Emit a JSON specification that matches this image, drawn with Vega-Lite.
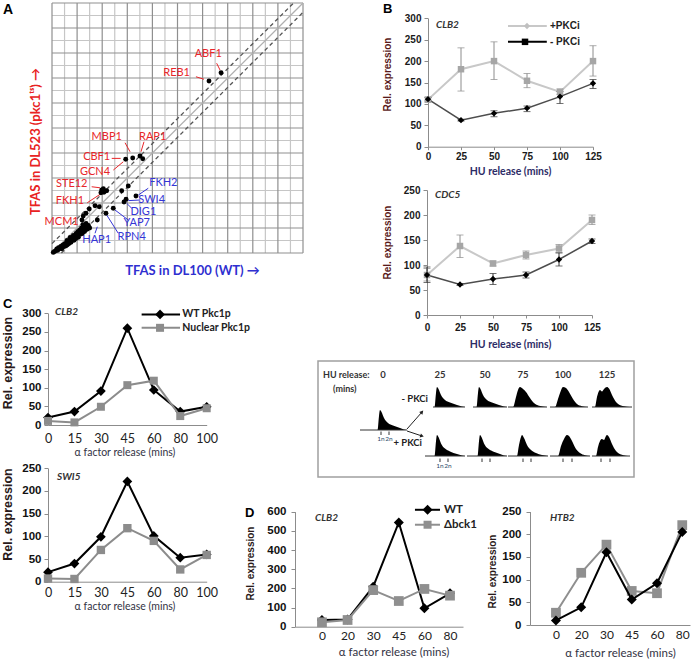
{
"$schema": "https://vega.github.io/schema/vega-lite/v6.json",
"background": "white",
"width": 691,
"height": 659,
"autosize": {"type": "none"},
"padding": 0,
"config": {"view": {"stroke": null}, "font": "Liberation Sans", "axis": {"labelFlush": false, "labelOverlap": false, "tickCount": 50}},
"resolve": {"scale": {"x": "independent", "y": "independent"}, "axis": {"x": "independent", "y": "independent"}},
"layer": [
{"layer": [
  {"data": {"values": [{"v": 1}, {"v": 3}, {"v": 5}, {"v": 7}, {"v": 9}, {"v": 11}, {"v": 13}, {"v": 15}, {"v": 17}, {"v": 19}]},
   "mark": {"type": "rule", "color": "#c6c6c6", "strokeWidth": 1.2},
   "encoding": {
    "x": {"field": "v", "type": "quantitative", "scale": {"domain": [0, 20], "range": [52, 303], "nice": false, "zero": false},
      "axis": {"orient": "bottom", "offset": -406, "labels": false, "ticks": false, "domain": false, "grid": false,
        "title": "TFAS in DL100 (WT) →", "titleFont": "Lato", "titleFontSize": 13, "titleFontWeight": "bold", "titleColor": "#2f2fd0", "titleX": 192, "titleY": 17, "titleBaseline": "middle"}},
    "y": {"datum": 0, "type": "quantitative"}, "y2": {"datum": 20}}},
  {"data": {"values": [{"v": 1}, {"v": 3}, {"v": 5}, {"v": 7}, {"v": 9}, {"v": 11}, {"v": 13}, {"v": 15}, {"v": 17}, {"v": 19}]},
   "mark": {"type": "rule", "color": "#c6c6c6", "strokeWidth": 1.2},
   "encoding": {
    "y": {"field": "v", "type": "quantitative", "scale": {"domain": [0, 20], "range": [253, 3], "nice": false, "zero": false},
      "axis": {"orient": "left", "offset": -52, "labels": false, "ticks": false, "domain": false, "grid": false,
        "title": "TFAS in DL523 (pkc1ᵗˢ) →", "titleFont": "Lato", "titleFontSize": 13, "titleFontWeight": "bold", "titleColor": "#e82222", "titleX": -17, "titleY": 141, "titleBaseline": "middle"}},
    "x": {"datum": 0, "type": "quantitative"}, "x2": {"datum": 20}}},
  {"data": {"values": [{"v": 0}, {"v": 2}, {"v": 4}, {"v": 6}, {"v": 8}, {"v": 10}, {"v": 12}, {"v": 14}, {"v": 16}, {"v": 18}, {"v": 20}]},
   "mark": {"type": "rule", "color": "#8f8f8f", "strokeWidth": 1.2},
   "encoding": {"x": {"field": "v", "type": "quantitative"}, "y": {"datum": 0, "type": "quantitative"}, "y2": {"datum": 20}}},
  {"data": {"values": [{"v": 0}, {"v": 2}, {"v": 4}, {"v": 6}, {"v": 8}, {"v": 10}, {"v": 12}, {"v": 14}, {"v": 16}, {"v": 18}, {"v": 20}]},
   "mark": {"type": "rule", "color": "#8f8f8f", "strokeWidth": 1.2},
   "encoding": {"y": {"field": "v", "type": "quantitative"}, "x": {"datum": 0, "type": "quantitative"}, "x2": {"datum": 20}}},
  {"data": {"values": [{"x1": 0, "y1": 0, "x2": 20, "y2": 20}]},
   "mark": {"type": "rule", "strokeWidth": 1.3, "color": "#b0b0b0"},
   "encoding": {"x": {"field": "x1", "type": "quantitative"}, "y": {"field": "y1", "type": "quantitative"}, "x2": {"field": "x2"}, "y2": {"field": "y2"}}},
  {"data": {"values": [{"x1": 0, "y1": 0.75, "x2": 19.25, "y2": 20}, {"x1": 0.75, "y1": 0, "x2": 20, "y2": 19.25}]},
   "mark": {"type": "rule", "strokeWidth": 1.3, "color": "#555555", "strokeDash": [4, 3]},
   "encoding": {"x": {"field": "x1", "type": "quantitative"}, "y": {"field": "y1", "type": "quantitative"}, "x2": {"field": "x2"}, "y2": {"field": "y2"}}},
  {"data": {"values": [
    {"x1": 13.12, "y1": 15.18, "x2": 13.39, "y2": 14.64},
    {"x1": 11.47, "y1": 14.1, "x2": 12.11, "y2": 13.9},
    {"x1": 5.82, "y1": 8.82, "x2": 6.22, "y2": 8.1},
    {"x1": 7.33, "y1": 8.9, "x2": 7.09, "y2": 8.1},
    {"x1": 4.76, "y1": 7.57, "x2": 5.47, "y2": 7.57},
    {"x1": 4.89, "y1": 6.64, "x2": 5.68, "y2": 7.3},
    {"x1": 3.16, "y1": 5.3, "x2": 3.82, "y2": 5.22},
    {"x1": 2.81, "y1": 4.02, "x2": 3.96, "y2": 4.78}]},
   "mark": {"type": "rule", "strokeWidth": 1, "color": "#e8262a"},
   "encoding": {"x": {"field": "x1", "type": "quantitative"}, "y": {"field": "y1", "type": "quantitative"}, "x2": {"field": "x2"}, "y2": {"field": "y2"}}},
  {"data": {"values": [
    {"x1": 7.67, "y1": 5.18, "x2": 6.88, "y2": 4.64},
    {"x1": 7.01, "y1": 4.24, "x2": 6.08, "y2": 4.19},
    {"x1": 6.35, "y1": 3.58, "x2": 5.95, "y2": 3.98},
    {"x1": 6.08, "y1": 2.64, "x2": 5.02, "y2": 3.44},
    {"x1": 5.28, "y1": 1.58, "x2": 4.36, "y2": 3.04},
    {"x1": 3.43, "y1": 1.58, "x2": 3.61, "y2": 2.1}]},
   "mark": {"type": "rule", "strokeWidth": 1, "color": "#3535d5"},
   "encoding": {"x": {"field": "x1", "type": "quantitative"}, "y": {"field": "y1", "type": "quantitative"}, "x2": {"field": "x2"}, "y2": {"field": "y2"}}},
  {"data": {"values": [
    {"label": "ABF1", "x": 12.45, "y": 15.92},
    {"label": "REB1", "x": 9.93, "y": 14.43},
    {"label": "MBP1", "x": 4.36, "y": 9.3},
    {"label": "RAP1", "x": 8.02, "y": 9.3},
    {"label": "CBF1", "x": 3.56, "y": 7.7},
    {"label": "GCN4", "x": 3.43, "y": 6.46},
    {"label": "STE12", "x": 1.57, "y": 5.5},
    {"label": "FKH1", "x": 1.43, "y": 4.14},
    {"label": "MCM1", "x": 0.77, "y": 2.5}]},
   "mark": {"type": "text", "font": "Lato", "fontSize": 11, "align": "center", "baseline": "middle", "color": "#e8262a"},
   "encoding": {"x": {"field": "x", "type": "quantitative"}, "y": {"field": "y", "type": "quantitative"}, "text": {"field": "label"}}},
  {"data": {"values": [
    {"label": "FKH2", "x": 8.87, "y": 5.58},
    {"label": "SWI4", "x": 7.94, "y": 4.24},
    {"label": "DIG1", "x": 7.28, "y": 3.26},
    {"label": "YAP7", "x": 6.75, "y": 2.42},
    {"label": "RPN4", "x": 6.35, "y": 1.3},
    {"label": "HAP1", "x": 3.56, "y": 1.04}]},
   "mark": {"type": "text", "font": "Lato", "fontSize": 11, "align": "center", "baseline": "middle", "color": "#3535d5"},
   "encoding": {"x": {"field": "x", "type": "quantitative"}, "y": {"field": "y", "type": "quantitative"}, "text": {"field": "label"}}},
  {"data": {"values": [
    {"x": 13.47, "y": 14.42}, {"x": 12.51, "y": 13.76}, {"x": 5.87, "y": 7.5}, {"x": 6.43, "y": 7.6}, {"x": 7.01, "y": 7.76}, {"x": 7.23, "y": 7.54},
    {"x": 3.96, "y": 5.04}, {"x": 4.14, "y": 4.86}, {"x": 4.09, "y": 5.14}, {"x": 4.36, "y": 4.98}, {"x": 3.9, "y": 4.82}, {"x": 5.55, "y": 4.98},
    {"x": 6.08, "y": 5.36}, {"x": 6.69, "y": 4.56}, {"x": 5.9, "y": 4.3}, {"x": 5.74, "y": 4.08}, {"x": 3.43, "y": 3.78}, {"x": 3.77, "y": 3.7},
    {"x": 2.97, "y": 3.52}, {"x": 4.88, "y": 3.58}, {"x": 4.3, "y": 3.18}, {"x": 3.61, "y": 2.64}, {"x": 2.49, "y": 2.96}, {"x": 2.71, "y": 3.18},
    {"x": 2.39, "y": 2.64},
    {"x": 0.1, "y": 0.05}, {"x": 0.2, "y": 0.12}, {"x": 0.3, "y": 0.18}, {"x": 0.38, "y": 0.32}, {"x": 0.46, "y": 0.22}, {"x": 0.52, "y": 0.42},
    {"x": 0.62, "y": 0.36}, {"x": 0.7, "y": 0.52}, {"x": 0.78, "y": 0.34}, {"x": 0.86, "y": 0.62}, {"x": 0.92, "y": 0.5}, {"x": 1.0, "y": 0.72},
    {"x": 1.06, "y": 0.56}, {"x": 1.15, "y": 0.82}, {"x": 1.22, "y": 0.66}, {"x": 1.3, "y": 0.92}, {"x": 1.36, "y": 0.76}, {"x": 1.45, "y": 1.02},
    {"x": 1.52, "y": 0.86}, {"x": 1.6, "y": 1.12}, {"x": 1.66, "y": 1.22}, {"x": 1.76, "y": 1.02}, {"x": 1.82, "y": 1.32}, {"x": 1.9, "y": 1.16},
    {"x": 2.0, "y": 1.42}, {"x": 2.1, "y": 1.26}, {"x": 2.16, "y": 1.62}, {"x": 2.26, "y": 1.5}, {"x": 2.35, "y": 1.72}, {"x": 2.42, "y": 1.56},
    {"x": 2.5, "y": 1.86}, {"x": 2.6, "y": 1.72}, {"x": 2.7, "y": 2.0}, {"x": 2.8, "y": 1.9}, {"x": 2.9, "y": 2.2}, {"x": 2.2, "y": 1.82},
    {"x": 1.92, "y": 1.56}, {"x": 2.56, "y": 2.12}, {"x": 3.0, "y": 2.0}, {"x": 2.46, "y": 2.26}, {"x": 2.72, "y": 2.36}, {"x": 1.7, "y": 1.4},
    {"x": 2.05, "y": 1.7}, {"x": 2.35, "y": 2.0}, {"x": 1.45, "y": 1.25}, {"x": 1.2, "y": 1.0}]},
   "mark": {"type": "circle", "color": "#000000", "size": 24, "opacity": 1},
   "encoding": {"x": {"field": "x", "type": "quantitative"}, "y": {"field": "y", "type": "quantitative"}}},
  {"data": {"values": [{"l": "A", "x": -3.9, "y": 20}]},
   "mark": {"type": "text", "align": "left", "baseline": "top", "fontSize": 14, "fontWeight": "bold", "color": "#000000"},
   "encoding": {"x": {"field": "x", "type": "quantitative"}, "y": {"field": "y", "type": "quantitative"}, "text": {"field": "l"}}}
]},
{"layer": [
  {"data": {"values": [
    {"cond": "+PKCi", "t": 0, "v": 110, "lo": 104, "hi": 116},
    {"cond": "+PKCi", "t": 25, "v": 181, "lo": 130, "hi": 231},
    {"cond": "+PKCi", "t": 50, "v": 200, "lo": 157, "hi": 245},
    {"cond": "+PKCi", "t": 75, "v": 154, "lo": 138, "hi": 171},
    {"cond": "+PKCi", "t": 100, "v": 128, "lo": 122, "hi": 135},
    {"cond": "+PKCi", "t": 125, "v": 200, "lo": 165, "hi": 236},
    {"cond": "- PKCi", "t": 0, "v": 111, "lo": 107, "hi": 115},
    {"cond": "- PKCi", "t": 25, "v": 62, "lo": 60, "hi": 64},
    {"cond": "- PKCi", "t": 50, "v": 78, "lo": 70, "hi": 84},
    {"cond": "- PKCi", "t": 75, "v": 90, "lo": 82, "hi": 95},
    {"cond": "- PKCi", "t": 100, "v": 117, "lo": 101, "hi": 129},
    {"cond": "- PKCi", "t": 125, "v": 148, "lo": 136, "hi": 157}]},
   "layer": [
    {"transform": [{"filter": "datum.cond === '+PKCi'"}], "mark": {"type": "line", "color": "#c8c8c8", "strokeWidth": 2},
     "encoding": {
      "x": {"field": "t", "type": "quantitative", "scale": {"domain": [0, 125], "range": [428, 593], "nice": false, "zero": false},
        "axis": {"orient": "bottom", "offset": -512.3, "values": [0, 25, 50, 75, 100, 125], "grid": false, "domainColor": "#8c8c8c", "tickColor": "#8c8c8c", "tickSize": 3, "labelPadding": 2,
          "labelFont": "Liberation Sans", "labelFontSize": 10, "labelFontWeight": "bold", "labelColor": "#1a1a1a",
          "title": "HU release (mins)", "titleFont": "Lato", "titleFontSize": 10.5, "titleFontWeight": "bold", "titleColor": "#2c2c66", "titleX": 510, "titleY": 25, "titleBaseline": "middle"}},
      "y": {"field": "v", "type": "quantitative", "scale": {"domain": [0, 300], "range": [146.7, 18.3], "nice": false, "zero": false},
        "axis": {"orient": "left", "offset": -428, "values": [0, 50, 100, 150, 200, 250, 300], "grid": false, "domainColor": "#8c8c8c", "tickColor": "#8c8c8c", "tickSize": 4, "labelPadding": 3,
          "labelFont": "Liberation Sans", "labelFontSize": 10, "labelFontWeight": "bold", "labelColor": "#1a1a1a",
          "title": "Rel. expression", "titleFontSize": 10, "titleFontWeight": "bold", "titleColor": "#5a1a1a", "titleX": -41, "titleY": 74, "titleBaseline": "middle"}}}},
    {"transform": [{"filter": "datum.cond === '- PKCi'"}], "mark": {"type": "line", "color": "#4d4d4d", "strokeWidth": 1.5},
     "encoding": {"x": {"field": "t", "type": "quantitative"}, "y": {"field": "v", "type": "quantitative"}}},
    {"transform": [{"filter": "datum.cond === '+PKCi'"}], "mark": {"type": "rule", "strokeWidth": 1, "color": "#8c8c8c"},
     "encoding": {"x": {"field": "t", "type": "quantitative"}, "y": {"field": "lo", "type": "quantitative"}, "y2": {"field": "hi"}}},
    {"transform": [{"filter": "datum.cond === '+PKCi'"}], "mark": {"type": "tick", "orient": "horizontal", "size": 7, "thickness": 1, "color": "#8c8c8c"},
     "encoding": {"x": {"field": "t", "type": "quantitative"}, "y": {"field": "lo", "type": "quantitative"}}},
    {"transform": [{"filter": "datum.cond === '+PKCi'"}], "mark": {"type": "tick", "orient": "horizontal", "size": 7, "thickness": 1, "color": "#8c8c8c"},
     "encoding": {"x": {"field": "t", "type": "quantitative"}, "y": {"field": "hi", "type": "quantitative"}}},
    {"transform": [{"filter": "datum.cond === '- PKCi'"}], "mark": {"type": "rule", "strokeWidth": 1, "color": "#333333"},
     "encoding": {"x": {"field": "t", "type": "quantitative"}, "y": {"field": "lo", "type": "quantitative"}, "y2": {"field": "hi"}}},
    {"transform": [{"filter": "datum.cond === '- PKCi'"}], "mark": {"type": "tick", "orient": "horizontal", "size": 7, "thickness": 1, "color": "#333333"},
     "encoding": {"x": {"field": "t", "type": "quantitative"}, "y": {"field": "lo", "type": "quantitative"}}},
    {"transform": [{"filter": "datum.cond === '- PKCi'"}], "mark": {"type": "tick", "orient": "horizontal", "size": 7, "thickness": 1, "color": "#333333"},
     "encoding": {"x": {"field": "t", "type": "quantitative"}, "y": {"field": "hi", "type": "quantitative"}}},
    {"transform": [{"filter": "datum.cond === '+PKCi'"}], "mark": {"type": "point", "shape": "square", "filled": true, "color": "#a6a6a6", "size": 42, "opacity": 1},
     "encoding": {"x": {"field": "t", "type": "quantitative"}, "y": {"field": "v", "type": "quantitative"}}},
    {"transform": [{"filter": "datum.cond === '- PKCi'"}], "mark": {"type": "point", "shape": "diamond", "filled": true, "color": "#000000", "size": 40, "opacity": 1},
     "encoding": {"x": {"field": "t", "type": "quantitative"}, "y": {"field": "v", "type": "quantitative"}}}
   ]},
  {"data": {"values": [{"x1": 60.6, "x2": 90, "y": 282}]}, "mark": {"type": "rule", "strokeWidth": 2, "color": "#c8c8c8"},
   "encoding": {"x": {"field": "x1", "type": "quantitative"}, "x2": {"field": "x2"}, "y": {"field": "y", "type": "quantitative"}}},
  {"data": {"values": [{"x1": 60.6, "x2": 90, "y": 245}]}, "mark": {"type": "rule", "strokeWidth": 2, "color": "#000000"},
   "encoding": {"x": {"field": "x1", "type": "quantitative"}, "x2": {"field": "x2"}, "y": {"field": "y", "type": "quantitative"}}},
  {"data": {"values": [{"x": 75, "y": 282}]}, "mark": {"type": "point", "shape": "diamond", "filled": true, "color": "#c0c0c0", "size": 40, "opacity": 1},
   "encoding": {"x": {"field": "x", "type": "quantitative"}, "y": {"field": "y", "type": "quantitative"}}},
  {"data": {"values": [{"x": 73.5, "y": 245}]}, "mark": {"type": "point", "shape": "square", "filled": true, "color": "#000000", "size": 42, "opacity": 1},
   "encoding": {"x": {"field": "x", "type": "quantitative"}, "y": {"field": "y", "type": "quantitative"}}},
  {"data": {"values": [{"s": "+PKCi", "x": 92.4, "y": 282}, {"s": "- PKCi", "x": 92.4, "y": 245}]},
   "mark": {"type": "text", "align": "left", "baseline": "middle", "fontSize": 10, "fontWeight": "bold", "color": "#222222"},
   "encoding": {"x": {"field": "x", "type": "quantitative"}, "y": {"field": "y", "type": "quantitative"}, "text": {"field": "s"}}},
  {"data": {"values": [{"g": "CLB2", "x": 6, "y": 284}]},
   "mark": {"type": "text", "align": "left", "baseline": "middle", "font": "Lato", "fontStyle": "italic", "fontWeight": "bold", "fontSize": 10, "color": "#333333"},
   "encoding": {"x": {"field": "x", "type": "quantitative"}, "y": {"field": "y", "type": "quantitative"}, "text": {"field": "g"}}},
  {"data": {"values": [{"l": "B", "x": -34, "y": 335.7}]},
   "mark": {"type": "text", "align": "left", "baseline": "top", "fontSize": 13, "fontWeight": "bold", "color": "#000000"},
   "encoding": {"x": {"field": "x", "type": "quantitative"}, "y": {"field": "y", "type": "quantitative"}, "text": {"field": "l"}}}
]},
{"layer": [
  {"data": {"values": [
    {"cond": "+PKCi", "t": 0, "v": 80, "lo": 68, "hi": 93},
    {"cond": "+PKCi", "t": 25, "v": 138, "lo": 115, "hi": 160},
    {"cond": "+PKCi", "t": 50, "v": 103, "lo": 98, "hi": 108},
    {"cond": "+PKCi", "t": 75, "v": 120, "lo": 112, "hi": 128},
    {"cond": "+PKCi", "t": 100, "v": 133, "lo": 125, "hi": 141},
    {"cond": "+PKCi", "t": 125, "v": 190, "lo": 181, "hi": 200},
    {"cond": "- PKCi", "t": 0, "v": 80, "lo": 65, "hi": 96},
    {"cond": "- PKCi", "t": 25, "v": 61, "lo": 59, "hi": 63},
    {"cond": "- PKCi", "t": 50, "v": 72, "lo": 61, "hi": 83},
    {"cond": "- PKCi", "t": 75, "v": 80, "lo": 74, "hi": 86},
    {"cond": "- PKCi", "t": 100, "v": 111, "lo": 98, "hi": 124},
    {"cond": "- PKCi", "t": 125, "v": 148, "lo": 143, "hi": 152}]},
   "layer": [
    {"transform": [{"filter": "datum.cond === '+PKCi'"}], "mark": {"type": "line", "color": "#c8c8c8", "strokeWidth": 2},
     "encoding": {
      "x": {"field": "t", "type": "quantitative", "scale": {"domain": [0, 125], "range": [427, 592], "nice": false, "zero": false},
        "axis": {"orient": "bottom", "offset": -344, "values": [0, 25, 50, 75, 100, 125], "grid": false, "domainColor": "#8c8c8c", "tickColor": "#8c8c8c", "tickSize": 3, "labelPadding": 4,
          "labelFont": "Liberation Sans", "labelFontSize": 10, "labelFontWeight": "bold", "labelColor": "#1a1a1a",
          "title": "HU release (mins)", "titleFont": "Lato", "titleFontSize": 10.5, "titleFontWeight": "bold", "titleColor": "#2c2c66", "titleX": 510, "titleY": 29, "titleBaseline": "middle"}},
      "y": {"field": "v", "type": "quantitative", "scale": {"domain": [0, 250], "range": [315, 190], "nice": false, "zero": false},
        "axis": {"orient": "left", "offset": -427, "values": [0, 50, 100, 150, 200, 250], "grid": false, "domainColor": "#8c8c8c", "tickColor": "#8c8c8c", "tickSize": 4, "labelPadding": 3,
          "labelFont": "Liberation Sans", "labelFontSize": 10, "labelFontWeight": "bold", "labelColor": "#1a1a1a",
          "title": "Rel. expression", "titleFontSize": 10, "titleFontWeight": "bold", "titleColor": "#5a1a1a", "titleX": -40, "titleY": 242, "titleBaseline": "middle"}}}},
    {"transform": [{"filter": "datum.cond === '- PKCi'"}], "mark": {"type": "line", "color": "#4d4d4d", "strokeWidth": 1.5},
     "encoding": {"x": {"field": "t", "type": "quantitative"}, "y": {"field": "v", "type": "quantitative"}}},
    {"transform": [{"filter": "datum.cond === '+PKCi'"}], "mark": {"type": "rule", "strokeWidth": 1, "color": "#8c8c8c"},
     "encoding": {"x": {"field": "t", "type": "quantitative"}, "y": {"field": "lo", "type": "quantitative"}, "y2": {"field": "hi"}}},
    {"transform": [{"filter": "datum.cond === '+PKCi'"}], "mark": {"type": "tick", "orient": "horizontal", "size": 7, "thickness": 1, "color": "#8c8c8c"},
     "encoding": {"x": {"field": "t", "type": "quantitative"}, "y": {"field": "lo", "type": "quantitative"}}},
    {"transform": [{"filter": "datum.cond === '+PKCi'"}], "mark": {"type": "tick", "orient": "horizontal", "size": 7, "thickness": 1, "color": "#8c8c8c"},
     "encoding": {"x": {"field": "t", "type": "quantitative"}, "y": {"field": "hi", "type": "quantitative"}}},
    {"transform": [{"filter": "datum.cond === '- PKCi'"}], "mark": {"type": "rule", "strokeWidth": 1, "color": "#333333"},
     "encoding": {"x": {"field": "t", "type": "quantitative"}, "y": {"field": "lo", "type": "quantitative"}, "y2": {"field": "hi"}}},
    {"transform": [{"filter": "datum.cond === '- PKCi'"}], "mark": {"type": "tick", "orient": "horizontal", "size": 7, "thickness": 1, "color": "#333333"},
     "encoding": {"x": {"field": "t", "type": "quantitative"}, "y": {"field": "lo", "type": "quantitative"}}},
    {"transform": [{"filter": "datum.cond === '- PKCi'"}], "mark": {"type": "tick", "orient": "horizontal", "size": 7, "thickness": 1, "color": "#333333"},
     "encoding": {"x": {"field": "t", "type": "quantitative"}, "y": {"field": "hi", "type": "quantitative"}}},
    {"transform": [{"filter": "datum.cond === '+PKCi'"}], "mark": {"type": "point", "shape": "square", "filled": true, "color": "#a6a6a6", "size": 42, "opacity": 1},
     "encoding": {"x": {"field": "t", "type": "quantitative"}, "y": {"field": "v", "type": "quantitative"}}},
    {"transform": [{"filter": "datum.cond === '- PKCi'"}], "mark": {"type": "point", "shape": "diamond", "filled": true, "color": "#000000", "size": 40, "opacity": 1},
     "encoding": {"x": {"field": "t", "type": "quantitative"}, "y": {"field": "v", "type": "quantitative"}}}
   ]},
  {"data": {"values": [{"g": "CDC5", "x": 6, "y": 240}]},
   "mark": {"type": "text", "align": "left", "baseline": "middle", "font": "Lato", "fontStyle": "italic", "fontWeight": "bold", "fontSize": 10, "color": "#333333"},
   "encoding": {"x": {"field": "x", "type": "quantitative"}, "y": {"field": "y", "type": "quantitative"}, "text": {"field": "g"}}}
]},
{"resolve": {"scale": {"x": "independent"}},
 "layer": [
  {"data": {"values": [
    {"s": "WT Pkc1p", "t": 0, "v": 20}, {"s": "WT Pkc1p", "t": 15, "v": 36}, {"s": "WT Pkc1p", "t": 30, "v": 91}, {"s": "WT Pkc1p", "t": 45, "v": 260},
    {"s": "WT Pkc1p", "t": 60, "v": 94}, {"s": "WT Pkc1p", "t": 80, "v": 36}, {"s": "WT Pkc1p", "t": 100, "v": 49},
    {"s": "Nuclear Pkc1p", "t": 0, "v": 11}, {"s": "Nuclear Pkc1p", "t": 15, "v": 7}, {"s": "Nuclear Pkc1p", "t": 30, "v": 49}, {"s": "Nuclear Pkc1p", "t": 45, "v": 107},
    {"s": "Nuclear Pkc1p", "t": 60, "v": 119}, {"s": "Nuclear Pkc1p", "t": 80, "v": 24}, {"s": "Nuclear Pkc1p", "t": 100, "v": 45}]},
   "layer": [
    {"transform": [{"filter": "datum.s === 'WT Pkc1p'"}], "mark": {"type": "line", "color": "#000000", "strokeWidth": 2},
     "encoding": {
      "x": {"field": "t", "type": "ordinal", "scale": {"type": "point", "domain": [0, 15, 30, 45, 60, 80, 100], "range": [48, 206.7], "padding": 0},
        "axis": {"orient": "bottom", "offset": -234, "labelAngle": 0, "ticks": false, "domainColor": "#8c8c8c", "labelFont": "Lato", "labelFontSize": 12.5, "labelColor": "#222222", "labelPadding": 7,
          "title": "α factor release (mins)", "titleFont": "Lato", "titleFontSize": 10.5, "titleFontWeight": "normal", "titleColor": "#333344", "titleX": 124.5, "titleY": 27, "titleBaseline": "middle"}},
      "y": {"field": "v", "type": "quantitative", "scale": {"domain": [0, 300], "range": [425, 313.3], "nice": false, "zero": false},
        "axis": {"orient": "left", "offset": -48, "values": [0, 50, 100, 150, 200, 250, 300], "grid": false, "domainColor": "#8c8c8c", "tickColor": "#8c8c8c", "tickSize": 4, "labelPadding": 3,
          "labelFont": "Liberation Sans", "labelFontSize": 11.5, "labelFontWeight": "bold", "labelColor": "#111111",
          "title": "Rel. expression", "titleFontSize": 12.5, "titleFontWeight": "bold", "titleColor": "#2a1a1a", "titleX": -40.7, "titleY": 362.5, "titleBaseline": "middle"}}}},
    {"transform": [{"filter": "datum.s === 'WT Pkc1p'"}], "mark": {"type": "point", "shape": "diamond", "filled": true, "color": "#000000", "size": 95, "opacity": 1},
     "encoding": {"x": {"field": "t", "type": "ordinal"}, "y": {"field": "v", "type": "quantitative"}}},
    {"transform": [{"filter": "datum.s === 'Nuclear Pkc1p'"}], "mark": {"type": "line", "color": "#8c8c8c", "strokeWidth": 2},
     "encoding": {"x": {"field": "t", "type": "ordinal"}, "y": {"field": "v", "type": "quantitative"}}},
    {"transform": [{"filter": "datum.s === 'Nuclear Pkc1p'"}], "mark": {"type": "point", "shape": "square", "filled": true, "color": "#8c8c8c", "size": 64, "opacity": 1},
     "encoding": {"x": {"field": "t", "type": "ordinal"}, "y": {"field": "v", "type": "quantitative"}}},
    {"data": {"values": [{"g": "CLB2", "t": 0, "v": 303.5}]},
     "mark": {"type": "text", "align": "left", "baseline": "middle", "dx": 7, "font": "Lato", "fontStyle": "italic", "fontWeight": "bold", "fontSize": 10, "color": "#333333"},
     "encoding": {"x": {"field": "t", "type": "ordinal"}, "y": {"field": "v", "type": "quantitative"}, "text": {"field": "g"}}},
    {"data": {"values": [{"l": "C", "t": 0, "v": 341}]},
     "mark": {"type": "text", "align": "left", "baseline": "top", "dx": -45, "fontSize": 13, "fontWeight": "bold", "color": "#000000"},
     "encoding": {"x": {"field": "t", "type": "ordinal"}, "y": {"field": "v", "type": "quantitative"}, "text": {"field": "l"}}}
   ]},
  {"data": {"values": [
    {"s": "WT Pkc1p", "x1": 59.0, "x2": 83.2, "xm": 70.6, "xt": 84.6, "y": 297},
    {"s": "Nuclear Pkc1p", "x1": 59.0, "x2": 83.2, "xm": 70.6, "xt": 84.6, "y": 261}]},
   "layer": [
    {"transform": [{"filter": "datum.s === 'WT Pkc1p'"}], "mark": {"type": "rule", "strokeWidth": 2, "color": "#000000"},
     "encoding": {"x": {"field": "x1", "type": "quantitative", "scale": {"domain": [0, 100], "range": [48, 206.7], "nice": false, "zero": false}, "axis": null}, "x2": {"field": "x2"},
      "y": {"field": "y", "type": "quantitative"}}},
    {"transform": [{"filter": "datum.s === 'Nuclear Pkc1p'"}], "mark": {"type": "rule", "strokeWidth": 2, "color": "#8c8c8c"},
     "encoding": {"x": {"field": "x1", "type": "quantitative"}, "x2": {"field": "x2"}, "y": {"field": "y", "type": "quantitative"}}},
    {"transform": [{"filter": "datum.s === 'WT Pkc1p'"}], "mark": {"type": "point", "shape": "diamond", "filled": true, "color": "#000000", "size": 95, "opacity": 1},
     "encoding": {"x": {"field": "xm", "type": "quantitative"}, "y": {"field": "y", "type": "quantitative"}}},
    {"transform": [{"filter": "datum.s === 'Nuclear Pkc1p'"}], "mark": {"type": "point", "shape": "square", "filled": true, "color": "#8c8c8c", "size": 64, "opacity": 1},
     "encoding": {"x": {"field": "xm", "type": "quantitative"}, "y": {"field": "y", "type": "quantitative"}}},
    {"mark": {"type": "text", "align": "left", "baseline": "middle", "font": "Lato", "fontWeight": "bold", "fontSize": 10.5, "color": "#222222"},
     "encoding": {"x": {"field": "xt", "type": "quantitative"}, "y": {"field": "y", "type": "quantitative"}, "text": {"field": "s"}}}
   ]}
]},
{"layer": [
  {"data": {"values": [
    {"s": "WT Pkc1p", "t": 0, "v": 21}, {"s": "WT Pkc1p", "t": 15, "v": 40}, {"s": "WT Pkc1p", "t": 30, "v": 99}, {"s": "WT Pkc1p", "t": 45, "v": 221},
    {"s": "WT Pkc1p", "t": 60, "v": 101}, {"s": "WT Pkc1p", "t": 80, "v": 53}, {"s": "WT Pkc1p", "t": 100, "v": 60},
    {"s": "Nuclear Pkc1p", "t": 0, "v": 7}, {"s": "Nuclear Pkc1p", "t": 15, "v": 6}, {"s": "Nuclear Pkc1p", "t": 30, "v": 70}, {"s": "Nuclear Pkc1p", "t": 45, "v": 118},
    {"s": "Nuclear Pkc1p", "t": 60, "v": 90}, {"s": "Nuclear Pkc1p", "t": 80, "v": 27}, {"s": "Nuclear Pkc1p", "t": 100, "v": 59}]},
   "layer": [
    {"transform": [{"filter": "datum.s === 'WT Pkc1p'"}], "mark": {"type": "line", "color": "#000000", "strokeWidth": 2},
     "encoding": {
      "x": {"field": "t", "type": "ordinal", "scale": {"type": "point", "domain": [0, 15, 30, 45, 60, 80, 100], "range": [48, 206.7], "padding": 0},
        "axis": {"orient": "bottom", "offset": -77.3, "labelAngle": 0, "ticks": false, "domainColor": "#8c8c8c", "labelFont": "Lato", "labelFontSize": 12.5, "labelColor": "#222222", "labelPadding": 5,
          "title": "α factor release (mins)", "titleFont": "Lato", "titleFontSize": 10.5, "titleFontWeight": "normal", "titleColor": "#333344", "titleX": 124.5, "titleY": 25, "titleBaseline": "middle"}},
      "y": {"field": "v", "type": "quantitative", "scale": {"domain": [0, 250], "range": [581.7, 468.3], "nice": false, "zero": false},
        "axis": {"orient": "left", "offset": -48, "values": [0, 50, 100, 150, 200, 250], "grid": false, "domainColor": "#8c8c8c", "tickColor": "#8c8c8c", "tickSize": 4, "labelPadding": 3,
          "labelFont": "Liberation Sans", "labelFontSize": 11.5, "labelFontWeight": "bold", "labelColor": "#111111",
          "title": "Rel. expression", "titleFontSize": 12.5, "titleFontWeight": "bold", "titleColor": "#2a1a1a", "titleX": -40.7, "titleY": 514, "titleBaseline": "middle"}}}},
    {"transform": [{"filter": "datum.s === 'WT Pkc1p'"}], "mark": {"type": "point", "shape": "diamond", "filled": true, "color": "#000000", "size": 95, "opacity": 1},
     "encoding": {"x": {"field": "t", "type": "ordinal"}, "y": {"field": "v", "type": "quantitative"}}},
    {"transform": [{"filter": "datum.s === 'Nuclear Pkc1p'"}], "mark": {"type": "line", "color": "#8c8c8c", "strokeWidth": 2},
     "encoding": {"x": {"field": "t", "type": "ordinal"}, "y": {"field": "v", "type": "quantitative"}}},
    {"transform": [{"filter": "datum.s === 'Nuclear Pkc1p'"}], "mark": {"type": "point", "shape": "square", "filled": true, "color": "#8c8c8c", "size": 70, "opacity": 1},
     "encoding": {"x": {"field": "t", "type": "ordinal"}, "y": {"field": "v", "type": "quantitative"}}},
    {"data": {"values": [{"g": "SWI5", "t": 0, "v": 230}]},
     "mark": {"type": "text", "align": "left", "baseline": "middle", "dx": 9, "font": "Lato", "fontStyle": "italic", "fontWeight": "bold", "fontSize": 10, "color": "#333333"},
     "encoding": {"x": {"field": "t", "type": "ordinal"}, "y": {"field": "v", "type": "quantitative"}, "text": {"field": "g"}}}
   ]}
]},
{"layer": [
  {"data": {"values": [{"x": 0, "x2": 316, "y": 0, "y2": 116}]},
   "mark": {"type": "rect", "fill": "transparent", "stroke": "#a0a0a0", "strokeWidth": 1.5},
   "encoding": {"x": {"field": "x", "type": "quantitative", "scale": {"domain": [0, 316], "range": [318, 634], "nice": false, "zero": false}, "axis": null},
    "x2": {"field": "x2"},
    "y": {"field": "y", "type": "quantitative", "scale": {"domain": [0, 116], "range": [477, 361], "nice": false, "zero": false}, "axis": null},
    "y2": {"field": "y2"}}},
  {"data": {"values": [
    {"h": "m25", "x": 115, "y": 70, "b": 70}, {"h": "m25", "x": 116.5, "y": 70, "b": 70}, {"h": "m25", "x": 118, "y": 84, "b": 70}, {"h": "m25", "x": 119, "y": 90, "b": 70},
    {"h": "m25", "x": 120.5, "y": 88, "b": 70}, {"h": "m25", "x": 123, "y": 82, "b": 70}, {"h": "m25", "x": 127, "y": 77, "b": 70}, {"h": "m25", "x": 132, "y": 74.4, "b": 70},
    {"h": "m25", "x": 139, "y": 72, "b": 70}, {"h": "m25", "x": 144, "y": 70.6, "b": 70}, {"h": "m25", "x": 147, "y": 70, "b": 70},
    {"h": "m50", "x": 155, "y": 70, "b": 70}, {"h": "m50", "x": 158.5, "y": 70, "b": 70}, {"h": "m50", "x": 160, "y": 84, "b": 70}, {"h": "m50", "x": 161, "y": 90, "b": 70},
    {"h": "m50", "x": 162.5, "y": 88, "b": 70}, {"h": "m50", "x": 165, "y": 82, "b": 70}, {"h": "m50", "x": 169, "y": 77, "b": 70}, {"h": "m50", "x": 174, "y": 74.4, "b": 70},
    {"h": "m50", "x": 181, "y": 72, "b": 70}, {"h": "m50", "x": 186, "y": 70.6, "b": 70}, {"h": "m50", "x": 189, "y": 70, "b": 70},
    {"h": "m75", "x": 190, "y": 70, "b": 70}, {"h": "m75", "x": 195, "y": 70, "b": 70}, {"h": "m75", "x": 198, "y": 80, "b": 70}, {"h": "m75", "x": 200, "y": 87, "b": 70},
    {"h": "m75", "x": 202, "y": 90, "b": 70}, {"h": "m75", "x": 205, "y": 88, "b": 70}, {"h": "m75", "x": 208, "y": 85, "b": 70}, {"h": "m75", "x": 212, "y": 79, "b": 70},
    {"h": "m75", "x": 216, "y": 74, "b": 70}, {"h": "m75", "x": 221, "y": 71.2, "b": 70}, {"h": "m75", "x": 229, "y": 70, "b": 70},
    {"h": "m100", "x": 232, "y": 70, "b": 70}, {"h": "m100", "x": 237, "y": 70, "b": 70}, {"h": "m100", "x": 240, "y": 78, "b": 70}, {"h": "m100", "x": 242, "y": 84, "b": 70},
    {"h": "m100", "x": 245, "y": 90, "b": 70}, {"h": "m100", "x": 248, "y": 89, "b": 70}, {"h": "m100", "x": 251, "y": 85, "b": 70}, {"h": "m100", "x": 255, "y": 78, "b": 70},
    {"h": "m100", "x": 259, "y": 73, "b": 70}, {"h": "m100", "x": 264, "y": 70.8, "b": 70}, {"h": "m100", "x": 270, "y": 70, "b": 70},
    {"h": "m125", "x": 274, "y": 70, "b": 70}, {"h": "m125", "x": 277, "y": 70, "b": 70}, {"h": "m125", "x": 279, "y": 80, "b": 70}, {"h": "m125", "x": 282, "y": 87, "b": 70},
    {"h": "m125", "x": 284, "y": 85.5, "b": 70}, {"h": "m125", "x": 286, "y": 88, "b": 70}, {"h": "m125", "x": 289, "y": 90, "b": 70}, {"h": "m125", "x": 291, "y": 88.5, "b": 70},
    {"h": "m125", "x": 294, "y": 82, "b": 70}, {"h": "m125", "x": 298, "y": 75, "b": 70}, {"h": "m125", "x": 303, "y": 71.5, "b": 70}, {"h": "m125", "x": 309, "y": 70.3, "b": 70},
    {"h": "m125", "x": 314, "y": 70, "b": 70},
    {"h": "p25", "x": 107, "y": 21, "b": 21}, {"h": "p25", "x": 116.5, "y": 21, "b": 21}, {"h": "p25", "x": 118, "y": 35.7, "b": 21}, {"h": "p25", "x": 119, "y": 42, "b": 21},
    {"h": "p25", "x": 120.5, "y": 39.9, "b": 21}, {"h": "p25", "x": 123, "y": 33.6, "b": 21}, {"h": "p25", "x": 127, "y": 28.4, "b": 21}, {"h": "p25", "x": 132, "y": 25.6, "b": 21},
    {"h": "p25", "x": 139, "y": 23.1, "b": 21}, {"h": "p25", "x": 144, "y": 21.6, "b": 21}, {"h": "p25", "x": 147, "y": 21, "b": 21},
    {"h": "p50", "x": 149, "y": 21, "b": 21}, {"h": "p50", "x": 159.5, "y": 21, "b": 21}, {"h": "p50", "x": 161, "y": 35.7, "b": 21}, {"h": "p50", "x": 162, "y": 42, "b": 21},
    {"h": "p50", "x": 163.5, "y": 39.9, "b": 21}, {"h": "p50", "x": 166, "y": 33.6, "b": 21}, {"h": "p50", "x": 170, "y": 28.4, "b": 21}, {"h": "p50", "x": 175, "y": 25.6, "b": 21},
    {"h": "p50", "x": 182, "y": 23.1, "b": 21}, {"h": "p50", "x": 186, "y": 21.6, "b": 21}, {"h": "p50", "x": 189, "y": 21, "b": 21},
    {"h": "p75", "x": 190, "y": 21, "b": 21}, {"h": "p75", "x": 199, "y": 21, "b": 21}, {"h": "p75", "x": 201, "y": 32, "b": 21}, {"h": "p75", "x": 203, "y": 40, "b": 21},
    {"h": "p75", "x": 204, "y": 42, "b": 21}, {"h": "p75", "x": 206, "y": 39, "b": 21}, {"h": "p75", "x": 209, "y": 32, "b": 21}, {"h": "p75", "x": 213, "y": 27, "b": 21},
    {"h": "p75", "x": 218, "y": 24, "b": 21}, {"h": "p75", "x": 224, "y": 22, "b": 21}, {"h": "p75", "x": 230, "y": 21, "b": 21},
    {"h": "p100", "x": 232, "y": 21, "b": 21}, {"h": "p100", "x": 240, "y": 21, "b": 21}, {"h": "p100", "x": 243, "y": 31, "b": 21}, {"h": "p100", "x": 246, "y": 38, "b": 21},
    {"h": "p100", "x": 249, "y": 42, "b": 21}, {"h": "p100", "x": 251, "y": 41, "b": 21}, {"h": "p100", "x": 254, "y": 36, "b": 21}, {"h": "p100", "x": 258, "y": 28, "b": 21},
    {"h": "p100", "x": 262, "y": 24, "b": 21}, {"h": "p100", "x": 267, "y": 21.8, "b": 21}, {"h": "p100", "x": 272, "y": 21, "b": 21},
    {"h": "p125", "x": 274, "y": 21, "b": 21}, {"h": "p125", "x": 278, "y": 21, "b": 21}, {"h": "p125", "x": 280, "y": 30, "b": 21}, {"h": "p125", "x": 282, "y": 36, "b": 21},
    {"h": "p125", "x": 284, "y": 38, "b": 21}, {"h": "p125", "x": 286, "y": 37, "b": 21}, {"h": "p125", "x": 288, "y": 41, "b": 21}, {"h": "p125", "x": 289, "y": 42, "b": 21},
    {"h": "p125", "x": 291, "y": 40, "b": 21}, {"h": "p125", "x": 294, "y": 33, "b": 21}, {"h": "p125", "x": 298, "y": 26, "b": 21}, {"h": "p125", "x": 303, "y": 22.5, "b": 21},
    {"h": "p125", "x": 308, "y": 21.3, "b": 21}, {"h": "p125", "x": 312, "y": 21, "b": 21},
    {"h": "z0", "x": 42, "y": 47, "b": 47}, {"h": "z0", "x": 59.5, "y": 47, "b": 47}, {"h": "z0", "x": 61, "y": 61, "b": 47}, {"h": "z0", "x": 62, "y": 67, "b": 47},
    {"h": "z0", "x": 63.5, "y": 65, "b": 47}, {"h": "z0", "x": 66, "y": 59, "b": 47}, {"h": "z0", "x": 70, "y": 54, "b": 47}, {"h": "z0", "x": 75, "y": 51.4, "b": 47},
    {"h": "z0", "x": 82, "y": 49, "b": 47}, {"h": "z0", "x": 86, "y": 47.6, "b": 47}, {"h": "z0", "x": 89, "y": 47, "b": 47}]},
   "mark": {"type": "area", "color": "#000000", "interpolate": "monotone", "opacity": 1},
   "encoding": {"x": {"field": "x", "type": "quantitative"}, "y": {"field": "y", "type": "quantitative"}, "y2": {"field": "b"}, "detail": {"field": "h", "type": "nominal"}}},
  {"data": {"values": [
    {"x": 115, "x2": 147, "y": 70}, {"x": 155, "x2": 189, "y": 70}, {"x": 190, "x2": 229, "y": 70}, {"x": 232, "x2": 270, "y": 70}, {"x": 274, "x2": 314, "y": 70},
    {"x": 107, "x2": 147, "y": 21}, {"x": 149, "x2": 189, "y": 21}, {"x": 190, "x2": 230, "y": 21}, {"x": 232, "x2": 272, "y": 21}, {"x": 274, "x2": 312, "y": 21},
    {"x": 42, "x2": 89, "y": 47}]},
   "mark": {"type": "rule", "color": "#333333", "strokeWidth": 1},
   "encoding": {"x": {"field": "x", "type": "quantitative"}, "x2": {"field": "x2"}, "y": {"field": "y", "type": "quantitative"}}},
  {"data": {"values": [
    {"x": 122, "y": 15, "y2": 18.5}, {"x": 130, "y": 15, "y2": 18.5}, {"x": 164, "y": 15, "y2": 18.5}, {"x": 172, "y": 15, "y2": 18.5},
    {"x": 205, "y": 15, "y2": 18.5}, {"x": 213, "y": 15, "y2": 18.5}, {"x": 245, "y": 15, "y2": 18.5}, {"x": 254, "y": 15, "y2": 18.5},
    {"x": 283, "y": 15, "y2": 18.5}, {"x": 292, "y": 15, "y2": 18.5}, {"x": 63, "y": 42, "y2": 45.5}, {"x": 71, "y": 42, "y2": 45.5}]},
   "mark": {"type": "rule", "color": "#333333", "strokeWidth": 1},
   "encoding": {"x": {"field": "x", "type": "quantitative"}, "y": {"field": "y", "type": "quantitative"}, "y2": {"field": "y2"}}},
  {"data": {"values": [{"x": 89, "y": 48, "x2": 104, "y2": 65}, {"x": 89, "y": 46, "x2": 104, "y2": 41}]},
   "mark": {"type": "rule", "color": "#222222", "strokeWidth": 1},
   "encoding": {"x": {"field": "x", "type": "quantitative"}, "y": {"field": "y", "type": "quantitative"}, "x2": {"field": "x2"}, "y2": {"field": "y2"}}},
  {"data": {"values": [{"x": 104, "y": 65}]},
   "mark": {"type": "point", "shape": "triangle-up", "angle": 41, "filled": true, "color": "#222222", "size": 18, "opacity": 1},
   "encoding": {"x": {"field": "x", "type": "quantitative"}, "y": {"field": "y", "type": "quantitative"}}},
  {"data": {"values": [{"x": 104, "y": 41}]},
   "mark": {"type": "point", "shape": "triangle-up", "angle": 108, "filled": true, "color": "#222222", "size": 18, "opacity": 1},
   "encoding": {"x": {"field": "x", "type": "quantitative"}, "y": {"field": "y", "type": "quantitative"}}},
  {"data": {"values": [{"s": "HU release:", "x": 5, "y": 102}, {"s": "(mins)", "x": 15, "y": 88}]},
   "mark": {"type": "text", "align": "left", "baseline": "middle", "font": "Lato", "fontWeight": "bold", "fontSize": 9, "color": "#333333"},
   "encoding": {"x": {"field": "x", "type": "quantitative"}, "y": {"field": "y", "type": "quantitative"}, "text": {"field": "s"}}},
  {"data": {"values": [{"s": "0", "x": 65, "y": 102}, {"s": "25", "x": 122, "y": 102}, {"s": "50", "x": 167, "y": 102}, {"s": "75", "x": 205, "y": 102},
    {"s": "100", "x": 245, "y": 102}, {"s": "125", "x": 289, "y": 102}]},
   "mark": {"type": "text", "align": "center", "baseline": "middle", "font": "Lato", "fontWeight": "bold", "fontSize": 9.5, "color": "#333333"},
   "encoding": {"x": {"field": "x", "type": "quantitative"}, "y": {"field": "y", "type": "quantitative"}, "text": {"field": "s"}}},
  {"data": {"values": [{"s": "- PKCi", "x": 110, "y": 78}, {"s": "+ PKCi", "x": 104, "y": 34}]},
   "mark": {"type": "text", "align": "right", "baseline": "middle", "font": "Lato", "fontWeight": "bold", "fontSize": 9.5, "color": "#222222"},
   "encoding": {"x": {"field": "x", "type": "quantitative"}, "y": {"field": "y", "type": "quantitative"}, "text": {"field": "s"}}},
  {"data": {"values": [{"s": "1n", "x": 63, "y": 41}, {"s": "2n", "x": 71, "y": 41}, {"s": "1n", "x": 122, "y": 14}, {"s": "2n", "x": 130, "y": 14}]},
   "mark": {"type": "text", "align": "center", "baseline": "top", "font": "Lato", "fontSize": 6.5, "color": "#2a4a6a"},
   "encoding": {"x": {"field": "x", "type": "quantitative"}, "y": {"field": "y", "type": "quantitative"}, "text": {"field": "s"}}}
]},
{"resolve": {"scale": {"x": "independent"}},
 "layer": [
  {"data": {"values": [
    {"s": "WT", "t": 0, "v": 35}, {"s": "WT", "t": 20, "v": 38}, {"s": "WT", "t": 30, "v": 209}, {"s": "WT", "t": 45, "v": 544}, {"s": "WT", "t": 60, "v": 96}, {"s": "WT", "t": 80, "v": 174},
    {"s": "Δbck1", "t": 0, "v": 23}, {"s": "Δbck1", "t": 20, "v": 35}, {"s": "Δbck1", "t": 30, "v": 191}, {"s": "Δbck1", "t": 45, "v": 134}, {"s": "Δbck1", "t": 60, "v": 197}, {"s": "Δbck1", "t": 80, "v": 162}]},
   "layer": [
    {"transform": [{"filter": "datum.s === 'WT'"}], "mark": {"type": "line", "color": "#000000", "strokeWidth": 2},
     "encoding": {
      "x": {"field": "t", "type": "ordinal", "scale": {"type": "point", "domain": [0, 20, 30, 45, 60, 80], "range": [295, 463], "padding": 0.78, "align": 0.675},
        "axis": {"orient": "bottom", "offset": -32.3, "labelAngle": 0, "ticks": false, "domainColor": "#8c8c8c", "labelFont": "Lato", "labelFontSize": 12, "labelColor": "#222222", "labelPadding": 4,
          "title": "α factor release (mins)", "titleFont": "Lato", "titleFontSize": 11.5, "titleFontWeight": "normal", "titleColor": "#333344", "titleX": 393.5, "titleY": 26, "titleBaseline": "middle"}},
      "y": {"field": "v", "type": "quantitative", "scale": {"domain": [0, 600], "range": [626.7, 511.7], "nice": false, "zero": false},
        "axis": {"orient": "left", "offset": -295, "values": [0, 100, 200, 300, 400, 500, 600], "grid": false, "domainColor": "#8c8c8c", "tickColor": "#8c8c8c", "tickSize": 4, "labelPadding": 5,
          "labelFont": "Liberation Sans", "labelFontSize": 11.5, "labelFontWeight": "bold", "labelColor": "#111111",
          "title": "Rel. expression", "titleFontSize": 10, "titleFontWeight": "bold", "titleColor": "#2a1a1a", "titleX": -45, "titleY": 563, "titleBaseline": "middle"}}}},
    {"transform": [{"filter": "datum.s === 'WT'"}], "mark": {"type": "point", "shape": "diamond", "filled": true, "color": "#000000", "size": 100, "opacity": 1},
     "encoding": {"x": {"field": "t", "type": "ordinal"}, "y": {"field": "v", "type": "quantitative"}}},
    {"transform": [{"filter": "datum.s === 'Δbck1'"}], "mark": {"type": "line", "color": "#8f8f8f", "strokeWidth": 2},
     "encoding": {"x": {"field": "t", "type": "ordinal"}, "y": {"field": "v", "type": "quantitative"}}},
    {"transform": [{"filter": "datum.s === 'Δbck1'"}], "mark": {"type": "point", "shape": "square", "filled": true, "color": "#8f8f8f", "size": 95, "opacity": 1},
     "encoding": {"x": {"field": "t", "type": "ordinal"}, "y": {"field": "v", "type": "quantitative"}}},
    {"data": {"values": [{"g": "CLB2", "t": 0, "v": 569}]},
     "mark": {"type": "text", "align": "left", "baseline": "middle", "dx": -7, "font": "Lato", "fontStyle": "italic", "fontWeight": "bold", "fontSize": 10, "color": "#333333"},
     "encoding": {"x": {"field": "t", "type": "ordinal"}, "y": {"field": "v", "type": "quantitative"}, "text": {"field": "g"}}},
    {"data": {"values": [{"l": "D", "t": 0, "v": 626}]},
     "mark": {"type": "text", "align": "left", "baseline": "top", "dx": -77, "fontSize": 13, "fontWeight": "bold", "color": "#000000"},
     "encoding": {"x": {"field": "t", "type": "ordinal"}, "y": {"field": "v", "type": "quantitative"}, "text": {"field": "l"}}}
   ]},
  {"data": {"values": [
    {"s": "WT", "x1": 71.4, "x2": 86.3, "xm": 78.9, "xt": 88.7, "y": 610},
    {"s": "Δbck1", "x1": 71.4, "x2": 86.3, "xm": 78.9, "xt": 88.7, "y": 532}]},
   "layer": [
    {"transform": [{"filter": "datum.s === 'WT'"}], "mark": {"type": "rule", "strokeWidth": 2, "color": "#000000"},
     "encoding": {"x": {"field": "x1", "type": "quantitative", "scale": {"domain": [0, 100], "range": [295, 463], "nice": false, "zero": false}, "axis": null}, "x2": {"field": "x2"},
      "y": {"field": "y", "type": "quantitative"}}},
    {"transform": [{"filter": "datum.s === 'Δbck1'"}], "mark": {"type": "rule", "strokeWidth": 2, "color": "#8f8f8f"},
     "encoding": {"x": {"field": "x1", "type": "quantitative"}, "x2": {"field": "x2"}, "y": {"field": "y", "type": "quantitative"}}},
    {"transform": [{"filter": "datum.s === 'WT'"}], "mark": {"type": "point", "shape": "diamond", "filled": true, "color": "#000000", "size": 100, "opacity": 1},
     "encoding": {"x": {"field": "xm", "type": "quantitative"}, "y": {"field": "y", "type": "quantitative"}}},
    {"transform": [{"filter": "datum.s === 'Δbck1'"}], "mark": {"type": "point", "shape": "square", "filled": true, "color": "#8f8f8f", "size": 64, "opacity": 1},
     "encoding": {"x": {"field": "xm", "type": "quantitative"}, "y": {"field": "y", "type": "quantitative"}}},
    {"mark": {"type": "text", "align": "left", "baseline": "middle", "font": "Lato", "fontWeight": "bold", "fontSize": 11.5, "color": "#222222"},
     "encoding": {"x": {"field": "xt", "type": "quantitative"}, "y": {"field": "y", "type": "quantitative"}, "text": {"field": "s"}}}
   ]}
]},
{"layer": [
  {"data": {"values": [
    {"s": "WT", "t": 0, "v": 10}, {"s": "WT", "t": 20, "v": 39}, {"s": "WT", "t": 30, "v": 160}, {"s": "WT", "t": 45, "v": 56}, {"s": "WT", "t": 60, "v": 92}, {"s": "WT", "t": 80, "v": 205},
    {"s": "Δbck1", "t": 0, "v": 27}, {"s": "Δbck1", "t": 20, "v": 115}, {"s": "Δbck1", "t": 30, "v": 177}, {"s": "Δbck1", "t": 45, "v": 75}, {"s": "Δbck1", "t": 60, "v": 70}, {"s": "Δbck1", "t": 80, "v": 220}]},
   "layer": [
    {"transform": [{"filter": "datum.s === 'Δbck1'"}], "mark": {"type": "line", "color": "#8f8f8f", "strokeWidth": 2},
     "encoding": {
      "x": {"field": "t", "type": "ordinal", "scale": {"type": "point", "domain": [0, 20, 30, 45, 60, 80], "range": [530, 690], "padding": 0.667, "align": 0.77},
        "axis": {"orient": "bottom", "offset": -34, "labelAngle": 0, "ticks": false, "domainColor": "#8c8c8c", "labelFont": "Lato", "labelFontSize": 12, "labelColor": "#222222", "labelPadding": 4,
          "title": "α factor release (mins)", "titleFont": "Lato", "titleFontSize": 11.5, "titleFontWeight": "normal", "titleColor": "#333344", "titleX": 620, "titleY": 28, "titleBaseline": "middle"}},
      "y": {"field": "v", "type": "quantitative", "scale": {"domain": [0, 250], "range": [625, 511.5], "nice": false, "zero": false},
        "axis": {"orient": "left", "offset": -530, "values": [0, 50, 100, 150, 200, 250], "grid": false, "domainColor": "#8c8c8c", "tickColor": "#8c8c8c", "tickSize": 4, "labelPadding": 5,
          "labelFont": "Liberation Sans", "labelFontSize": 11.5, "labelFontWeight": "bold", "labelColor": "#111111",
          "title": "Rel. expression", "titleFontSize": 10, "titleFontWeight": "bold", "titleColor": "#2a1a1a", "titleX": -38, "titleY": 571, "titleBaseline": "middle"}}}},
    {"transform": [{"filter": "datum.s === 'Δbck1'"}], "mark": {"type": "point", "shape": "square", "filled": true, "color": "#8f8f8f", "size": 95, "opacity": 1},
     "encoding": {"x": {"field": "t", "type": "ordinal"}, "y": {"field": "v", "type": "quantitative"}}},
    {"transform": [{"filter": "datum.s === 'WT'"}], "mark": {"type": "line", "color": "#000000", "strokeWidth": 2},
     "encoding": {"x": {"field": "t", "type": "ordinal"}, "y": {"field": "v", "type": "quantitative"}}},
    {"transform": [{"filter": "datum.s === 'WT'"}], "mark": {"type": "point", "shape": "diamond", "filled": true, "color": "#000000", "size": 100, "opacity": 1},
     "encoding": {"x": {"field": "t", "type": "ordinal"}, "y": {"field": "v", "type": "quantitative"}}},
    {"data": {"values": [{"g": "HTB2", "t": 0, "v": 236}]},
     "mark": {"type": "text", "align": "left", "baseline": "middle", "dx": -6, "font": "Lato", "fontStyle": "italic", "fontWeight": "bold", "fontSize": 10, "color": "#333333"},
     "encoding": {"x": {"field": "t", "type": "ordinal"}, "y": {"field": "v", "type": "quantitative"}, "text": {"field": "g"}}}
   ]}
]}
]
}
